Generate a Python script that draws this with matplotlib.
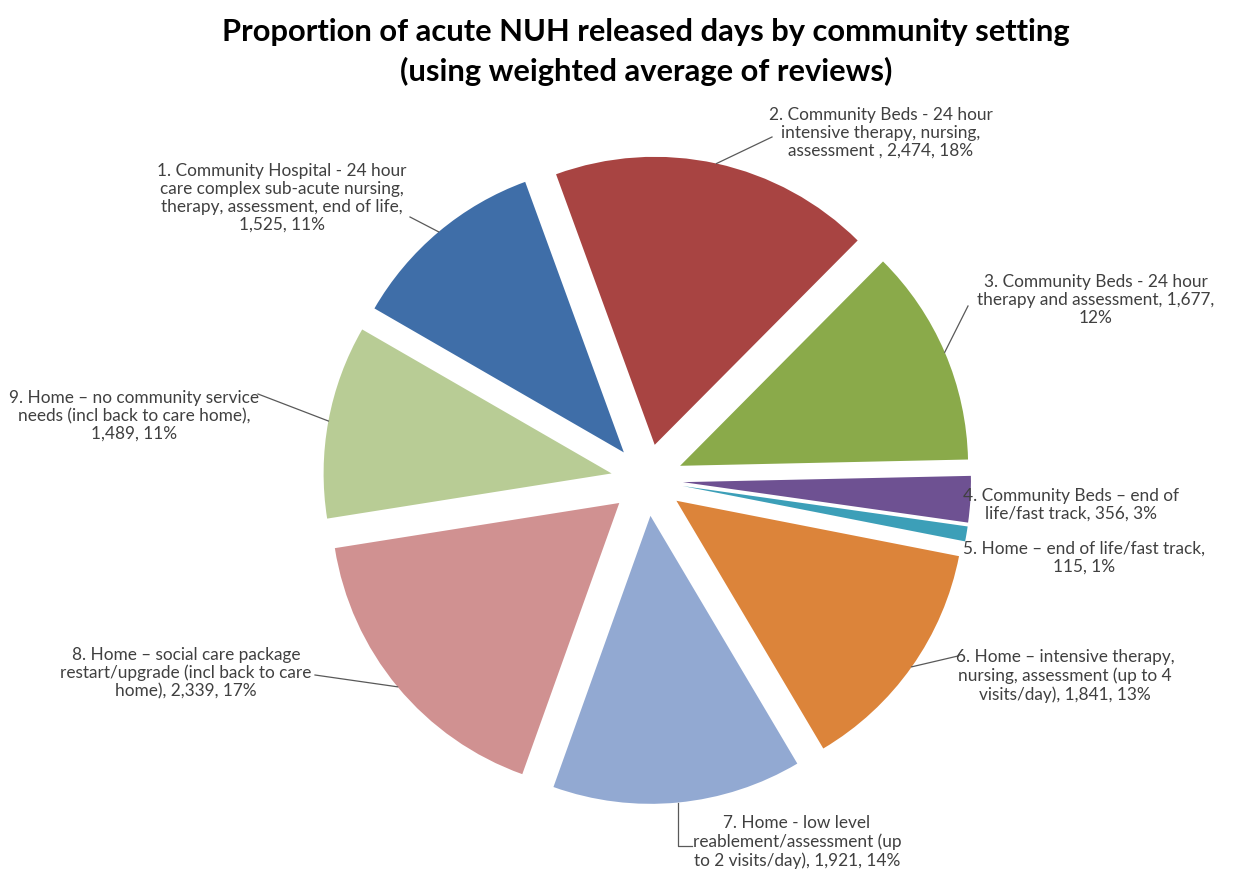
import numpy as np
import matplotlib
matplotlib.use("Agg")
import matplotlib.pyplot as plt

# ---------------- data ----------------
categories = [
    "1. Community Hospital - 24 hour care complex sub-acute nursing, therapy, assessment, end of life",
    "2. Community Beds - 24 hour intensive therapy, nursing, assessment ",
    "3. Community Beds - 24 hour therapy and assessment",
    "4. Community Beds \u2013 end of life/fast track",
    "5. Home \u2013 end of life/fast track",
    "6. Home \u2013 intensive therapy, nursing, assessment (up to 4 visits/day)",
    "7. Home - low level reablement/assessment (up to 2 visits/day)",
    "8. Home \u2013 social care package restart/upgrade (incl back to care home)",
    "9. Home \u2013 no community service needs (incl back to care home)",
]
values = [1525, 2474, 1677, 356, 115, 1841, 1921, 2339, 1489]
value_labels = ["1,525", "2,474", "1,677", "356", "115", "1,841", "1,921", "2,339", "1,489"]
percent_labels = ["11%", "18%", "12%", "3%", "1%", "13%", "14%", "17%", "11%"]
label_texts = [
    "1. Community Hospital - 24 hour\ncare complex sub-acute nursing,\ntherapy, assessment, end of life,\n1,525, 11%",
    "2. Community Beds - 24 hour\nintensive therapy, nursing,\nassessment , 2,474, 18%",
    "3. Community Beds - 24 hour\ntherapy and assessment, 1,677,\n12%",
    "4. Community Beds \u2013 end of\nlife/fast track, 356, 3%",
    "5. Home \u2013 end of life/fast track,\n115, 1%",
    "6. Home \u2013 intensive therapy,\nnursing, assessment (up to 4\nvisits/day), 1,841, 13%",
    "7. Home - low level\nreablement/assessment (up\nto 2 visits/day), 1,921, 14%",
    "8. Home \u2013 social care package\nrestart/upgrade (incl back to care\nhome), 2,339, 17%",
    "9. Home \u2013 no community service\nneeds (incl back to care home),\n1,489, 11%",
]
title_lines = ["Proportion of acute NUH released days by community setting",
               "(using weighted average of reviews)"]

# ---------------- style / layout ----------------
colors = ["#3F6EA8", "#A84442", "#8AAA4A", "#6E5192", "#3C9FB8",
          "#DC843A", "#92A9D2", "#D09191", "#B8CC95"]
W, H = 1239, 878
pie_center_img = (647, 481)
pie_radius = 288
explode_dist = 36
start_angle = 150
# label block centres (image pixel coords)
label_pos = [(282, 198), (881, 133), (1096, 300), (1071, 505), (1084, 558),
             (1065, 676), (797, 842), (186, 673), (134, 416)]
# leader line anchor points near labels (image px), None = no leader
leader_anchor = [(410, 218), (772, 138), (968, 307), None, None,
                 (958, 657), (692, 847), (315, 676), (258, 395)]
text_color = "#404040"
font_family = ["Lato", "DejaVu Sans"]

fig = plt.figure(figsize=(W / 100, H / 100), dpi=100)
ax = fig.add_axes([0, 0, 1, 1])

def Y(y):
    return H - y

wedges, _ = ax.pie(values, colors=colors, startangle=start_angle, counterclock=False,
                   explode=[explode_dist] * len(values), radius=pie_radius,
                   center=(pie_center_img[0], Y(pie_center_img[1])),
                   wedgeprops=dict(linewidth=0))
ax.set_xlim(0, W)
ax.set_ylim(0, H)
ax.set_aspect("equal")
ax.axis("off")

renderer = fig.canvas.get_renderer()

def fit_size(text, target_px, weight="normal", base=12):
    t = fig.text(0, 0, text, fontsize=base, family=font_family, weight=weight)
    w = t.get_window_extent(renderer).width
    t.remove()
    return base * target_px / w

label_fs = fit_size("9. Home \u2013 no community service", 250)
title_fs = fit_size(title_lines[0], 848, weight="bold", base=20)

ax.text(646, Y(32), title_lines[0], ha="center", va="center", fontsize=title_fs,
        weight="bold", family=font_family, color="black")
ax.text(646, Y(71), title_lines[1], ha="center", va="center", fontsize=title_fs,
        weight="bold", family=font_family, color="black")

for i, (txt, (lx, ly)) in enumerate(zip(label_texts, label_pos)):
    ax.text(lx, Y(ly), txt, ha="center", va="center", multialignment="center",
            fontsize=label_fs, family=font_family, color=text_color, linespacing=1.15)
    anc = leader_anchor[i]
    if anc is None:
        continue
    w = wedges[i]
    thm = np.deg2rad((w.theta1 + w.theta2) / 2)
    cx, cy = w.center
    px, py = cx + w.r * np.cos(thm), cy + w.r * np.sin(thm)
    ax_, ay_ = anc[0], Y(anc[1])
    if i == 6:
        xs = [px, px, ax_]
        ys = [py, ay_, ay_]
    else:
        xs = [ax_, px]
        ys = [ay_, py]
    ax.plot(xs, ys, color="#595959", lw=0.9)

fig.savefig("out.png", dpi=100, facecolor="white")
